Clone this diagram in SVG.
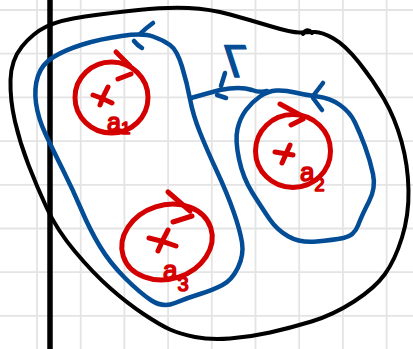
<svg xmlns="http://www.w3.org/2000/svg" width="413" height="349" viewBox="0 0 413 349">
<style>
.grid{stroke:#e4e4e4;stroke-width:1.8;fill:none}
.ink{fill:none;stroke-linecap:round;stroke-linejoin:round}
.blk{stroke:#000;stroke-width:4}
.blu{stroke:#034c96;stroke-width:4.5}
.red{stroke:#d40000;stroke-width:5}
.lbl{font-family:"Liberation Sans","DejaVu Sans",sans-serif;fill:#d40000;stroke:#d40000;stroke-width:1.6;stroke-linejoin:round}
.gam{font-family:"Liberation Sans","DejaVu Sans",sans-serif;fill:#034c96;stroke:#034c96;stroke-width:1.4;stroke-linejoin:round}
</style>
<rect width="413" height="349" fill="#fff"/>
<g id="grid" class="grid">
<path d="M37,0V349M80.7,0V349M124.4,0V349M168.1,0V349M211.8,0V349M255.5,0V349M299.2,0V349M342.9,0V349M386.6,0V349"/>
<path d="M0,10H413M0,53.7H413M0,97.4H413M0,141.1H413M0,184.8H413M0,228.5H413M0,272.2H413M0,315.9H413"/>
</g>
<g id="axis"><path d="M50,0V349" stroke="#000" stroke-width="5.5"/></g>
<g id="region">
<path class="ink blk" d="M22,46.5 Q33,33 46.5,26.5 Q60,20 85,16.5 Q110,13 138.5,10 Q167,7 188.5,8 Q210,9 230,14.5 Q250,20 271.5,26.5 Q293,33 300.5,32.5 Q308,32 315,32 Q322,32 333.5,38.5 Q345,45 359,62.5 Q373,80 384,99 Q395,118 401.5,141.5 Q408,165 408.5,190 Q409,215 402,237.5 Q395,260 385,274 Q375,288 354,301.5 Q333,315 311.5,321.5 Q290,328 270,332.5 Q250,337 230,338.5 Q210,340 195,337 Q180,334 170,329.5 Q160,325 143.5,314 Q127,303 110,288 Q93,273 75,251.5 Q57,230 47,208.5 Q37,187 28.5,165 Q20,143 15,121.5 Q10,100 10.5,80 Q11,60 22,46.5 Z"/>
<path class="ink blk" d="M303,34 Q307,27 312,33" stroke-width="5"/>
</g>
<g id="contour-left">
<path class="ink blu" d="M153,36.5 Q143,33 121.5,36 Q100,39 82.5,44.5 Q65,50 53.5,57 Q42,64 38,76 Q34,88 36,103 Q38,118 45.5,134 Q53,150 63,170 Q73,190 81.5,210 Q90,230 100,246.5 Q110,263 125,278 Q140,293 151.5,300.5 Q163,308 175,303 Q187,298 200,294 Q213,290 222.5,285 Q232,280 238,267.5 Q244,255 242,242.5 Q240,230 233.5,211.5 Q227,193 217,171.5 Q207,150 200,132.5 Q193,115 190,99 Q187,83 182,66.5 Q177,50 170,45 Q163,40 153,36.5 Z"/>
<path class="ink blu" d="M153,23 Q146,28 140,34 M134,41 Q138,46 142,48"/>
</g>
<g id="contour-right">
<path class="ink blu" d="M276.5,90.5 Q268,91 260,96.5 Q252,102 246,110 Q240,118 237.5,129 Q235,140 239,159 Q243,178 252.5,193 Q262,208 269.5,219 Q277,230 288.5,236.5 Q300,243 316.5,241.5 Q333,240 343.5,238 Q354,236 358,225.5 Q362,215 369,201.5 Q376,188 373,174 Q370,160 365,146.5 Q360,133 355,122.5 Q350,112 340,105 Q330,98 317.5,96.5 Q305,95 295,92.5 Q285,90 276.5,90.5 Z"/>
<path class="ink blu" d="M313,96 L323,83 M313,98 L322,110"/>
</g>
<g id="connectors">
<path class="ink blu" d="M191,98 Q205,94 220,90 Q240,86 252,90 Q260,93 267,91"/>
<path class="ink blu" d="M225,73 L221,86 M217,95 L226,98"/>
</g>
<g id="gamma">
<text class="gam" transform="translate(231,77) skewX(18)" font-size="46">Γ</text>
</g>
<g id="pole-a1">
<ellipse class="ink red" cx="111.5" cy="97.5" rx="36.5" ry="35.5"/>
<path class="ink red" d="M116,52 L130,66 M118,79 L131,74"/>
<path class="ink red" d="M93,95 Q102,98 112,103 M108,87 Q103,96 100,105"/>
<text class="lbl" x="107" y="131" font-size="25">a<tspan font-size="17" dy="3">1</tspan></text>
</g>
<g id="pole-a2">
<ellipse class="ink red" cx="293" cy="151" rx="37.5" ry="36.5"/>
<path class="ink red" d="M280,104 L302,116 M291,125 L303,119"/>
<path class="ink red" d="M275,152 L293,155 M290,145 L282,163"/>
<text class="lbl" x="300" y="181" font-size="26">a<tspan font-size="18" dy="10">2</tspan></text>
</g>
<g id="pole-a3">
<ellipse class="ink red" cx="167" cy="242" rx="46" ry="37" transform="rotate(-18 167 242)"/>
<path class="ink red" d="M168,192 L190,211 M173,222 L192,216"/>
<path class="ink red" d="M149,238 Q163,241 176,246 M168,230 Q162,241 158,251"/>
<text class="lbl" x="163" y="279" font-size="26">a<tspan font-size="20" dy="12">3</tspan></text>
</g>
</svg>
